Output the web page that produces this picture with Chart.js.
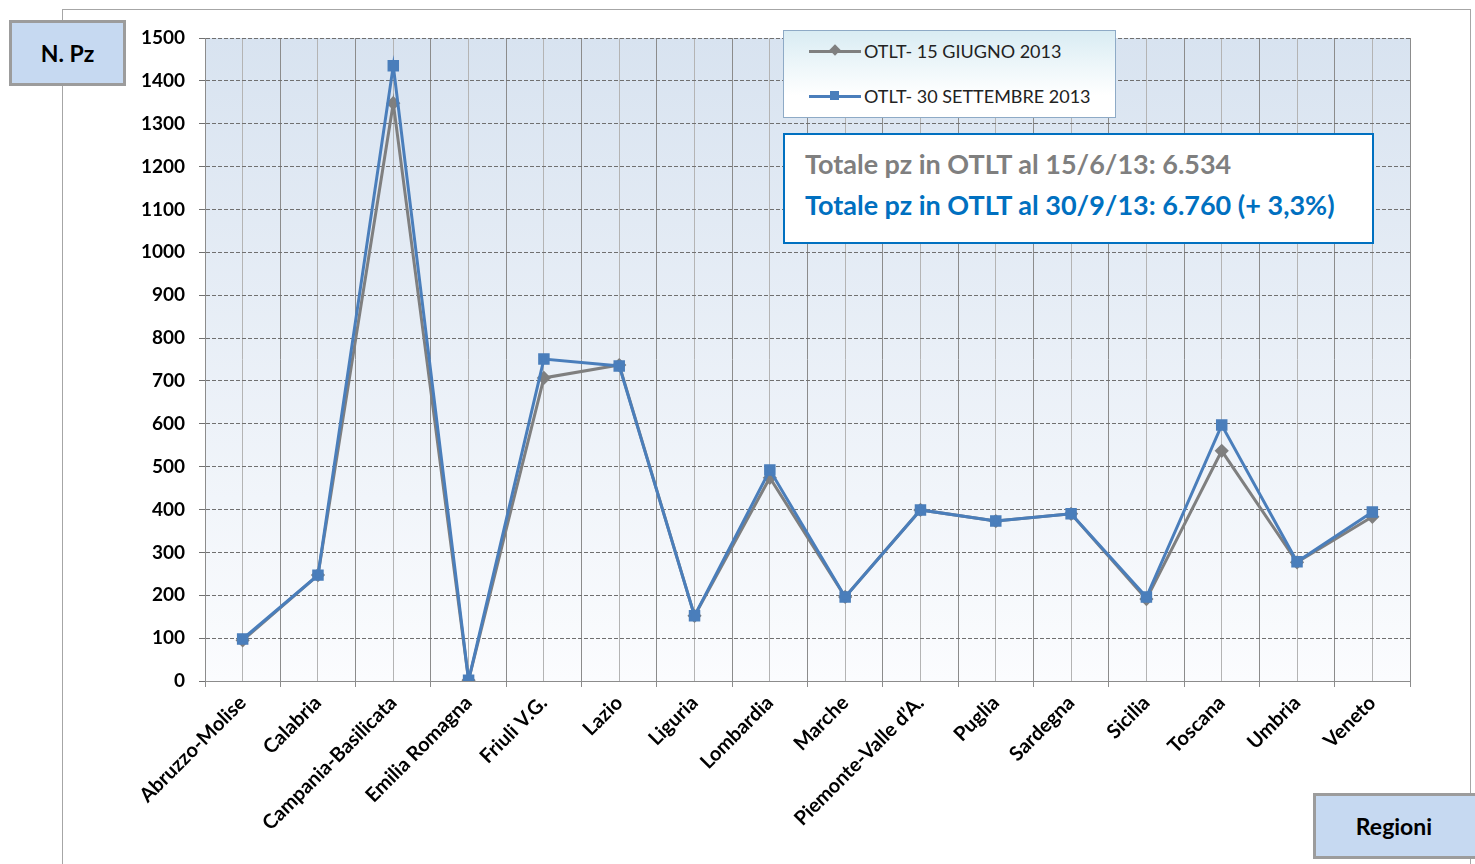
<!DOCTYPE html>
<html>
<head>
<meta charset="utf-8">
<script src="https://cdn.jsdelivr.net/npm/chart.js@4"></script>
<style>
    body { margin: 0; background: #fff; font-family: Lato, "Open Sans", sans-serif; }
    #wrap { position: relative; width: 1475px; height: 864px; overflow: hidden; }
    #frame { position: absolute; left: 62px; top: 9px; width: 1407px; height: 870px; border: 1px solid #a6a6a6; }
    canvas { position: absolute; left: 0; top: 0; }
    .tag { position: absolute; background: #c6d9f1; border: 3px solid #9c9c9c; font-weight: bold; font-size: 23px;
           display: flex; align-items: center; justify-content: center; color: #000; box-sizing: border-box; }
    #legend { position: absolute; left: 783px; top: 30px; width: 333px; height: 88px; box-sizing: border-box;
              border: 1px solid #8eaac6; background: linear-gradient(#d9ecf3, #ffffff 75%);
              padding: 1px 0 0 25px; font-size: 18px; color: #222; }
    #legend .item { display: flex; align-items: center; height: 38px; margin-bottom: 7px; }
    #legend .sym { position: relative; width: 52px; height: 14px; margin-right: 3px; }
    #legend .ln { position: absolute; left: 0; right: 0; top: 6px; height: 3px; }
    #legend .mk { position: absolute; left: 21px; top: 2px; width: 9px; height: 9px; }
    #note { position: absolute; left: 783px; top: 133px; width: 591px; height: 111px; box-sizing: border-box;
            border: 2px solid #0070c0; background: #fff; padding: 10px 0 0 20px; font-weight: bold; font-size: 27px; }
    #note div { height: 41px; line-height: 38px; }
</style>
</head>
<body>
<div id="wrap">
    <div id="frame"></div>
    <canvas id="chart" width="1475" height="864"></canvas>
    <div class="tag" style="left:9px;top:20px;width:117px;height:66px;">N. Pz</div>
    <div class="tag" style="left:1313px;top:793px;width:180px;height:66px;padding-right:18px;">Regioni</div>
    <div id="legend"></div>
    <div id="note">
        <div style="color:#7f7f7f">Totale pz in OTLT al 15/6/13: 6.534</div>
        <div style="color:#0070c0">Totale pz in OTLT al 30/9/13: 6.760 (+ 3,3%)</div>
    </div>
</div>
<script>
const regions = ['Abruzzo-Molise', 'Calabria', 'Campania-Basilicata', 'Emilia Romagna', 'Friuli V.G.', 'Lazio',
    'Liguria', 'Lombardia', 'Marche', 'Piemonte-Valle d\u2019A.', 'Puglia', 'Sardegna', 'Sicilia', 'Toscana',
    'Umbria', 'Veneto'];
const giugno2013 = [95, 247, 1348, 2, 707, 737, 152, 474, 196, 399, 373, 390, 191, 537, 277, 383];
const settembre2013 = [98, 247, 1435, 2, 751, 735, 152, 492, 196, 399, 373, 390, 196, 597, 278, 394];
const seriesNames = ['OTLT- 15 GIUGNO 2013', 'OTLT- 30 SETTEMBRE 2013'];
const yTicks = { min: 0, max: 1500, step: 100 };

const bgPlugin = {
    id: 'bg',
    beforeDraw(chart) {
        const { ctx, chartArea: a } = chart;
        const g = ctx.createLinearGradient(0, a.top, 0, a.bottom);
        g.addColorStop(0, '#d8e3f0');
        g.addColorStop(1, '#fbfcfe');
        ctx.save();
        ctx.fillStyle = g;
        ctx.fillRect(a.left, a.top, a.width, a.height);
        ctx.restore();
    }
};

const chart = new Chart(
    document.getElementById('chart'),
    {
        type: 'line',
        data: {
            labels: regions,
            datasets: [
                {
                    label: seriesNames[0],
                    data: giugno2013,
                    borderColor: '#7f7f7f',
                    backgroundColor: '#7f7f7f',
                    borderWidth: 3,
                    pointStyle: 'rectRot',
                    pointRadius: 5,
                    order: 2
                },
                {
                    label: seriesNames[1],
                    data: settembre2013,
                    borderColor: '#4a7ebb',
                    backgroundColor: '#4a7ebb',
                    borderWidth: 3,
                    pointStyle: 'rect',
                    pointRadius: 6,
                    order: 1
                }
            ]
        },
        options: {
            responsive: false,
            animation: false,
            layout: {
                padding: { left: 125, right: 65, top: 38, bottom: 0 }
            },
            plugins: {
                legend: { display: false },
                tooltip: { enabled: false }
            },
            scales: {
                x: {
                    offset: true,
                    grid: { offset: true, color: '#8c8c8c', tickLength: 6 },
                    border: { color: '#8c8c8c' },
                    ticks: {
                        maxRotation: 45,
                        minRotation: 45,
                        autoSkip: false,
                        padding: 4,
                        color: '#000',
                        font: { family: 'Lato', weight: 'bold', size: 20 }
                    },
                    afterFit(scale) { scale.height = 183; }
                },
                x2: {
                    type: 'category',
                    labels: regions,
                    position: 'bottom',
                    offset: true,
                    grid: { offset: false, color: '#b4b4b4', drawTicks: false },
                    border: { display: false },
                    ticks: { display: false },
                    afterFit(scale) { scale.height = 0; }
                },
                y: {
                    min: yTicks.min,
                    max: yTicks.max,
                    ticks: {
                        stepSize: yTicks.step,
                        padding: 14,
                        color: '#000',
                        font: { family: 'Lato', weight: 'bold', size: 19 },
                        callback: v => String(v)
                    },
                    grid: {
                        color: '#707070',
                        tickLength: 6
                    },
                    border: { color: '#8c8c8c', dash: [4, 2] },
                    afterFit(scale) { scale.width = 80; }
                }
            }
        },
        plugins: [bgPlugin]
    }
);

// legend built from the chart's own datasets
const legendEl = document.getElementById('legend');
chart.data.datasets.forEach(ds => {
    const item = document.createElement('div');
    item.className = 'item';
    const rot = ds.pointStyle === 'rectRot' ? 'transform:rotate(45deg);width:8px;height:8px;left:22px;' : '';
    item.innerHTML = '<span class="sym"><span class="ln" style="background:' + ds.borderColor + '"></span>' +
        '<span class="mk" style="background:' + ds.borderColor + ';' + rot + '"></span></span>' +
        '<span>' + ds.label + '</span>';
    legendEl.appendChild(item);
});
</script>
</body>
</html>
